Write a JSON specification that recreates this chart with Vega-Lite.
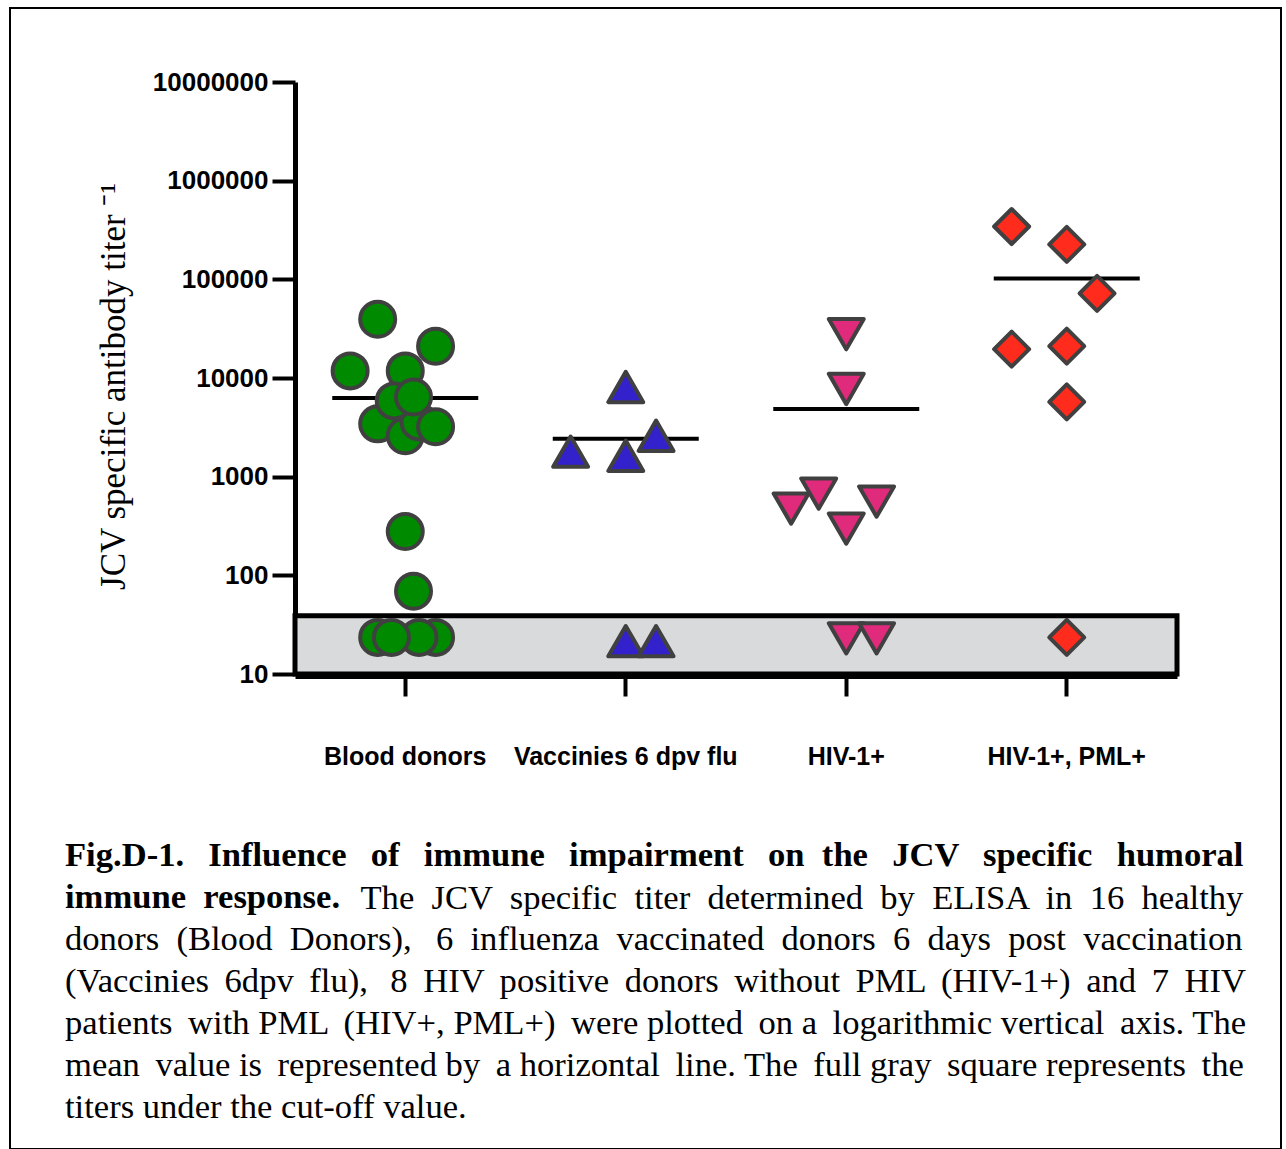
{
  "$schema": "https://vega.github.io/schema/vega-lite/v6.json",
  "autosize": "none",
  "padding": {"left": 10, "top": 8, "right": 5, "bottom": 0},
  "width": 1271,
  "height": 1141,
  "background": "white",
  "config": {
    "view": {"stroke": "black", "strokeWidth": 2}
  },
  "title": {
    "text": ["Fig.D-1. \u00a0\u2009Influence \u00a0\u2009of \u00a0\u2009immune \u00a0\u2009impairment \u00a0\u2009on \u00a0the \u00a0\u2009JCV \u00a0\u2009specific \u00a0\u2009humoral", "immune \u00a0response."],
    "subtitle": [
      "donors \u00a0(Blood \u00a0Donors), \u00a0\u20096 \u00a0influenza \u00a0vaccinated \u00a0donors \u00a06 \u00a0days \u00a0post \u00a0vaccination",
      "(Vaccinies \u20096dpv \u2009flu), \u2009\u20098 \u2009HIV \u2009positive \u2009donors \u2009without \u2009PML \u2009(HIV-1+) \u2009and \u20097 \u2009HIV",
      "patients \u2009with PML \u2009(HIV+, PML+) \u2009were plotted \u2009on a \u2009logarithmic vertical \u2009axis. The",
      "mean \u2009value is \u2009represented by \u2009a horizontal \u2009line. The \u2009full gray \u2009square represents \u2009the",
      "titers under the cut-off value."
    ],
    "orient": "bottom",
    "anchor": "start",
    "frame": "group",
    "offset": -310,
    "dx": 55,
    "baseline": "top",
    "font": "Liberation Serif",
    "fontSize": 34.6,
    "fontWeight": "bold",
    "color": "black",
    "lineHeight": 42,
    "subtitleFont": "Liberation Serif",
    "subtitleFontSize": 34.6,
    "subtitleFontWeight": "normal",
    "subtitleColor": "black",
    "subtitleLineHeight": 42,
    "subtitlePadding": 7.4
  },
  "datasets": {
    "points": [
      {"group": "Blood donors", "titer": 39400, "slot": -1},
      {"group": "Blood donors", "titer": 21000, "slot": 1.1},
      {"group": "Blood donors", "titer": 11800, "slot": -2},
      {"group": "Blood donors", "titer": 11800, "slot": 0},
      {"group": "Blood donors", "titer": 3430, "slot": -1},
      {"group": "Blood donors", "titer": 2600, "slot": 0},
      {"group": "Blood donors", "titer": 3590, "slot": 0.5},
      {"group": "Blood donors", "titer": 3200, "slot": 1.1},
      {"group": "Blood donors", "titer": 5860, "slot": -0.4},
      {"group": "Blood donors", "titer": 6430, "slot": 0.3},
      {"group": "Blood donors", "titer": 278, "slot": 0},
      {"group": "Blood donors", "titer": 69, "slot": 0.3},
      {"group": "Blood donors", "titer": 23.5, "slot": 1.1},
      {"group": "Blood donors", "titer": 23.5, "slot": 0.5},
      {"group": "Blood donors", "titer": 23.5, "slot": -1},
      {"group": "Blood donors", "titer": 23.5, "slot": -0.5},
      {"group": "Vaccinies 6 dpv flu", "titer": 8110, "slot": 0},
      {"group": "Vaccinies 6 dpv flu", "titer": 1790, "slot": -2},
      {"group": "Vaccinies 6 dpv flu", "titer": 2600, "slot": 1.1},
      {"group": "Vaccinies 6 dpv flu", "titer": 1630, "slot": 0},
      {"group": "Vaccinies 6 dpv flu", "titer": 21.5, "slot": 0},
      {"group": "Vaccinies 6 dpv flu", "titer": 21.5, "slot": 1.1},
      {"group": "HIV-1+", "titer": 27800, "slot": 0},
      {"group": "HIV-1+", "titer": 7740, "slot": 0},
      {"group": "HIV-1+", "titer": 475, "slot": -2},
      {"group": "HIV-1+", "titer": 673, "slot": -1},
      {"group": "HIV-1+", "titer": 559, "slot": 1.1},
      {"group": "HIV-1+", "titer": 298, "slot": 0},
      {"group": "HIV-1+", "titer": 23, "slot": 0},
      {"group": "HIV-1+", "titer": 23, "slot": 1.1},
      {"group": "HIV-1+, PML+", "titer": 343000, "slot": -2},
      {"group": "HIV-1+, PML+", "titer": 226000, "slot": 0},
      {"group": "HIV-1+, PML+", "titer": 72200, "slot": 1.1},
      {"group": "HIV-1+, PML+", "titer": 19600, "slot": -2},
      {"group": "HIV-1+, PML+", "titer": 21000, "slot": 0},
      {"group": "HIV-1+, PML+", "titer": 5720, "slot": 0},
      {"group": "HIV-1+, PML+", "titer": 23.5, "slot": 0}
    ],
    "means": [
      {"group": "Blood donors", "titer": 6280},
      {"group": "Vaccinies 6 dpv flu", "titer": 2420},
      {"group": "HIV-1+", "titer": 4860},
      {"group": "HIV-1+, PML+", "titer": 102000}
    ],
    "cutoff": [
      {"titer": 10, "cutoff": 39}
    ]
  },
  "encoding": {
    "y": {
      "field": "titer",
      "type": "quantitative",
      "scale": {"type": "log", "domain": [10, 10000000], "range": [666, 74], "nice": false},
      "axis": {
        "orient": "left",
        "offset": -285,
        "values": [10, 100, 1000, 10000, 100000, 1000000, 10000000],
        "format": "d",
        "grid": false,
        "labelFont": "Liberation Sans",
        "labelFontWeight": "bold",
        "labelFontSize": 26,
        "labelColor": "black",
        "labelPadding": 4,
        "labelOverlap": false,
        "labelFlush": false,
        "tickColor": "black",
        "tickWidth": 4,
        "tickSize": 23,
        "domainColor": "black",
        "domainWidth": 5,
        "title": "JCV specific antibody titer \u207b\u00b9",
        "titleFont": "Liberation Serif",
        "titleFontWeight": "normal",
        "titleFontSize": 35,
        "titleColor": "black",
        "titleAngle": -90,
        "titleAlign": "center",
        "titleBaseline": "alphabetic",
        "titleX": -171,
        "titleY": 378
      }
    }
  },
  "layer": [
    {
      "data": {"name": "cutoff"},
      "mark": {"type": "rect", "fill": "#d9dadb", "stroke": "black", "strokeWidth": 5},
      "encoding": {
        "x": {
          "datum": 0,
          "type": "quantitative",
          "scale": {"domain": [0, 1], "range": [285, 1167]},
          "axis": {
            "orient": "top",
            "domain": false,
            "ticks": false,
            "labels": false,
            "grid": false,
            "title": "The \u00a0JCV \u00a0specific \u00a0titer \u00a0determined \u00a0by \u00a0ELISA \u00a0in \u00a016 \u00a0healthy",
            "titleFont": "Liberation Serif",
            "titleFontSize": 34.6,
            "titleFontWeight": "normal",
            "titleColor": "black",
            "titleAlign": "left",
            "titleAnchor": "start",
            "titleBaseline": "top",
            "titleAngle": 0,
            "titleX": 350,
            "titleY": 873
          }
        },
        "x2": {"datum": 1},
        "y2": {"field": "cutoff"}
      }
    },
    {
      "encoding": {
        "x": {
          "field": "group",
          "type": "nominal",
          "sort": ["Blood donors", "Vaccinies 6 dpv flu", "HIV-1+", "HIV-1+, PML+"],
          "scale": {
            "domain": ["Blood donors", "Vaccinies 6 dpv flu", "HIV-1+", "HIV-1+, PML+"],
            "range": [285, 1167],
            "paddingInner": 0,
            "paddingOuter": 0
          },
          "axis": {
            "orient": "bottom",
            "offset": -475,
            "title": null,
            "labelAngle": 0,
            "labelFont": "Liberation Sans",
            "labelFontWeight": "bold",
            "labelFontSize": 25,
            "labelColor": "black",
            "labelPadding": 48,
            "labelLimit": 400,
            "tickColor": "black",
            "tickWidth": 4,
            "tickSize": 22,
            "domainColor": "black",
            "domainWidth": 9,
            "grid": false
          }
        }
      },
      "layer": [
        {
          "data": {"name": "means"},
          "mark": {"type": "tick", "color": "black", "opacity": 1, "size": 146, "thickness": 4, "orient": "horizontal"}
        },
        {
          "data": {"name": "points"},
          "mark": {"type": "point", "filled": true, "stroke": "#404040", "strokeWidth": 4, "opacity": 1, "size": 1225, "strokeJoin": "round"},
          "encoding": {
            "xOffset": {"field": "slot", "type": "quantitative", "scale": {"domain": [-4, 4]}},
            "color": {
              "field": "group",
              "type": "nominal",
              "scale": {
                "domain": ["Blood donors", "Vaccinies 6 dpv flu", "HIV-1+", "HIV-1+, PML+"],
                "range": ["#008a00", "#3322cc", "#e02a7c", "#ff2b1c"]
              },
              "legend": null
            },
            "shape": {
              "field": "group",
              "type": "nominal",
              "scale": {
                "domain": ["Blood donors", "Vaccinies 6 dpv flu", "HIV-1+", "HIV-1+, PML+"],
                "range": ["circle", "triangle-up", "triangle-down", "diamond"]
              },
              "legend": null
            }
          }
        }
      ]
    }
  ],
  "resolve": {"scale": {"x": "independent"}, "axis": {"x": "independent"}}
}
